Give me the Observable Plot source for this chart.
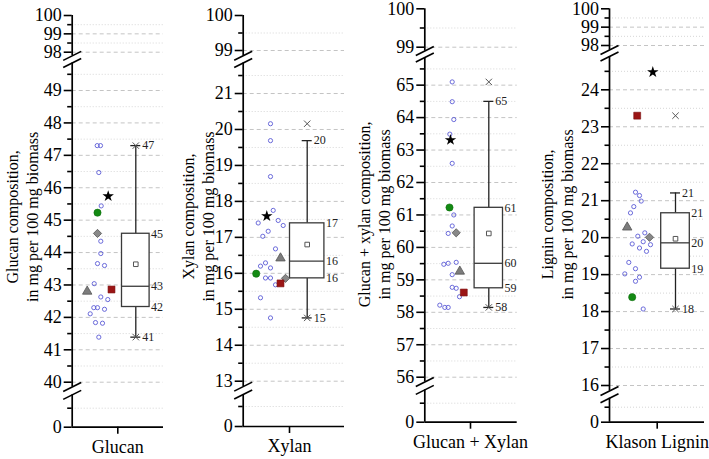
<!DOCTYPE html>
<html><head><meta charset="utf-8">
<script src="https://cdn.jsdelivr.net/npm/d3@7"></script>
<script src="https://cdn.jsdelivr.net/npm/@observablehq/plot@0.6"></script>
<style>
html,body{margin:0;padding:0;background:#fff;}
#chart{position:relative;width:709px;height:459px;overflow:hidden;}
#chart svg{position:absolute;left:0;top:0;}
#chart svg text{font-family:'Liberation Serif','Times New Roman',serif !important;}
</style></head><body><div id="chart"></div>
<script>
// ---------- data ----------
const categories = ["Glucan", "Xylan", "Glucan + Xylan", "Klason Lignin"];
const yTitles = [
  "Glucan composition,\nin mg per 100 mg biomass",
  "Xylan composition,\nin mg per 100 mg biomass",
  "Glucan + xylan composition,\nin mg per 100 mg biomass",
  "Lignin composition,\nin mg per 100 mg biomass"
];

// individual samples (open circles) and their horizontal jitter
const glucanSamples = [47.30, 47.30, 46.47, 45.44, 44.35, 43.97, 43.66, 43.60, 43.04, 42.63, 42.55, 42.30, 42.30, 42.25, 42.11, 41.84, 41.82, 41.39];
const glucanJitter  = [-20.6, -17.3, -19, -16.6, -17, -17, -20.3, -13.3, -23.6, -17, -10, -24, -20.3, -13.3, -27.6, -22.3, -15.3, -19];
const xylanSamples  = [20.16, 19.69, 18.69, 17.75, 17.40, 17.47, 17.33, 17.17, 17.03, 16.68, 16.29, 16.20, 16.15, 15.87, 15.87, 15.68, 15.32, 14.76];
const xylanJitter   = [-19, -19, -19, -16.3, -31.3, -11.3, -6.3, -21.3, -26.7, -14, -24, -29, -19, -24, -19, -14, -29, -19];
const gxSamples     = [65.10, 64.49, 63.94, 63.49, 62.59, 61.00, 60.66, 60.43, 59.48, 59.51, 59.54, 59.16, 58.77, 58.74, 58.48, 58.22, 58.15, 58.15];
const gxJitter      = [-18.3, -18.3, -16.7, -20.7, -18.3, -16.7, -18.3, -22.3, -26.7, -22.3, -14.3, -18.3, -18.3, -14.3, -11, -30.7, -25.7, -22.3];
const ligninSamples = [21.23, 21.14, 20.99, 20.84, 20.67, 20.13, 20.04, 19.89, 19.83, 19.81, 19.72, 19.63, 19.33, 19.02, 19.16, 18.93, 18.82, 18.07];
const ligninJitter  = [-21.7, -17.7, -16, -23.4, -26.7, -12.4, -19.4, -14, -25, -6.7, -17.7, -10.7, -28.4, -32.4, -21.7, -17.7, -21.7, -14];

// highlighted reference samples (one per panel)
const starValues     = [45.74, 17.59, 63.31, 24.48];
const starJitter     = [-9.6, -22.7, -20, -4.4];
const greenValues    = [45.23, 15.99, 61.23, 18.39];
const greenJitter    = [-20.3, -33.3, -21, -25];
const triangleValues = [42.80, 16.42, 59.26, 20.28];
const triangleJitter = [-30.6, -9, -10.7, -30];
const diamondValues  = [44.59, 15.86, 60.45, 20.01];
const diamondJitter  = [-20.3, -4, -14.3, -7.7];
const squareValues   = [42.86, 15.72, 58.61, 23.30];
const squareJitter   = [-6.3, -9, -6.7, -20];

// box statistics
const boxMin      = [41.39, 14.76, 58.15, 18.07];
const whiskerLow  = [41.39, 14.76, 58.15, 18.07];
const q1          = [42.32, 15.86, 58.74, 19.16];
const median      = [42.96, 16.34, 59.51, 19.86];
const mean        = [43.64, 16.80, 60.43, 19.97];
const q3          = [44.58, 17.39, 61.22, 20.66];
const whiskerHigh = [47.30, 19.69, 64.50, 21.21];
const boxMax      = [47.30, 20.16, 65.10, 23.30];

// tick labels
const glucanTicks = [0, 40, 41, 42, 43, 44, 45, 46, 47, 48, 49, 98, 99, 100];
const glucanMinor = [0.5, 40.5, 41.5, 42.5, 43.5, 44.5, 45.5, 46.5, 47.5, 48.5, 49.5, 98.5, 99.5];
const xylanTicks  = [0, 13, 14, 15, 16, 17, 18, 19, 20, 21, 99, 100];
const xylanMinor  = [0.5, 13.5, 14.5, 15.5, 16.5, 17.5, 18.5, 19.5, 20.5, 21.5, 99.5];
const gxTicks     = [0, 56, 57, 58, 59, 60, 61, 62, 63, 64, 65, 99, 100];
const gxMinor     = [0.5, 56.5, 57.5, 58.5, 59.5, 60.5, 61.5, 62.5, 63.5, 64.5, 65.5, 99.5];
const ligninTicks = [0, 16, 17, 18, 19, 20, 21, 22, 23, 24, 98, 99, 100];
const ligninMinor = [0.5, 16.5, 17.5, 18.5, 19.5, 20.5, 21.5, 22.5, 23.5, 24.5, 98.5, 99.5];

// ---------- layout (broken axes: bottom / middle / top segments) ----------
const panels = [
  {left: 71.7, right: 163, tick: 117.3, boxOffset: 18, boxHalf: 13.8, titleDx: -51,
   segs: [{lo: 0, hi: 0.85, ref: 0, px: 426.7, k: 38}, {lo: 39.85, hi: 49.85, ref: 40, px: 381.7, k: 32.41}, {lo: 97.8, hi: 100, ref: 100, px: 15, k: 18.35}],
   ticks: glucanTicks, minor: glucanMinor, samples: glucanSamples, jitter: glucanJitter},
  {left: 242.7, right: 344, tick: 289, boxOffset: 17.7, boxHalf: 17.2, titleDx: -46,
   segs: [{lo: 0, hi: 0.8, ref: 0, px: 426, k: 40}, {lo: 12.85, hi: 21.85, ref: 13, px: 380.7, k: 35.96}, {lo: 98.85, hi: 100, ref: 100, px: 15, k: 35}],
   ticks: xylanTicks, minor: xylanMinor, samples: xylanSamples, jitter: xylanJitter},
  {left: 424.3, right: 516.7, tick: 470, boxOffset: 18.3, boxHalf: 14.2, titleDx: -51,
   segs: [{lo: 0, hi: 0.85, ref: 0, px: 421.7, k: 38}, {lo: 55.85, hi: 65.85, ref: 56, px: 376.7, k: 32.45}, {lo: 98.9, hi: 100, ref: 100, px: 8.3, k: 38.4}],
   ticks: gxTicks, minor: gxMinor, samples: gxSamples, jitter: gxJitter},
  {left: 609, right: 704, tick: 656.7, boxOffset: 18.3, boxHalf: 14.3, titleDx: -53,
   segs: [{lo: 0, hi: 0.8, ref: 0, px: 421.7, k: 30}, {lo: 15.85, hi: 24.9, ref: 16, px: 385, k: 36.96}, {lo: 97.75, hi: 100, ref: 100, px: 8.3, k: 18.35}],
   ticks: ligninTicks, minor: ligninMinor, samples: ligninSamples, jitter: ligninJitter}
];

const FONT = "'Liberation Serif', 'Times New Roman', serif";
const slash = {draw(ctx) { ctx.moveTo(-9, 4.5); ctx.lineTo(9, -4.5); }};

const root = document.getElementById("chart");
panels.forEach((p, i) => {
  const dom = [], rng = [];
  p.segs.forEach(s => { for (const v of [s.lo, s.hi]) { dom.push(v); rng.push(s.px - (v - s.ref) * s.k); } });
  const zeroPx = rng[0];
  const xDom = [p.left - p.tick, p.right - p.tick];
  const c = p.boxOffset, hw = p.boxHalf;
  const st = {min: boxMin[i], wlo: whiskerLow[i], q1: q1[i], med: median[i], mean: mean[i], q3: q3[i], whi: whiskerHigh[i], max: boxMax[i]};
  const pts = p.samples.map((v, j) => ({v, x: p.jitter[j]}));
  const breakEnds = [p.segs[0].hi, p.segs[1].lo, p.segs[1].hi, p.segs[2].lo];
  const gridMajor = p.ticks.filter(t => t !== 0 && t !== 100);
  const labels = [
    {v: st.whi, x: c + 5}, {v: st.q3, x: c + hw}, {v: st.med, x: c + hw}, {v: st.q1, x: c + hw}, {v: st.wlo, x: c + 5}
  ];
  const one = (v, x) => [{v, x}];

  const chart = Plot.plot({
    width: 709, height: 459,
    marginLeft: p.left, marginRight: 709 - p.right, marginTop: 0, marginBottom: 459 - zeroPx,
    style: {background: "transparent", fontFamily: FONT, overflow: "visible", color: "black"},
    x: {type: "linear", domain: xDom, label: null},
    y: {type: "linear", domain: dom, range: rng, label: null},
    marks: [
      Plot.ruleY(gridMajor, {stroke: "#c4c4c4", strokeDasharray: "4,3"}),
      Plot.ruleY(p.minor, {stroke: "#d6d6d6", strokeDasharray: "1,2"}),
      Plot.ruleX(p.segs, {x: xDom[0], y1: "lo", y2: "hi", stroke: "black", strokeWidth: 1.7}),
      Plot.dot(breakEnds, {x: xDom[0], y: d => d, symbol: slash, fill: "none", stroke: "black", strokeWidth: 1.6}),
      Plot.axisY(p.ticks, {anchor: "left", label: null, tickSize: 8, tickPadding: 2.5, fontSize: 18, strokeWidth: 1.6, tickFormat: d => String(d)}),
      Plot.axisY(p.minor, {anchor: "left", label: null, tickSize: 4.5, strokeWidth: 1.6, tickFormat: () => ""}),
      Plot.ruleY([0], {stroke: "black", strokeWidth: 1.7}),
      Plot.axisX([0], {anchor: "bottom", label: null, tickSize: 7, tickPadding: 6, fontSize: 18, strokeWidth: 1.6, tickFormat: () => categories[i]}),
      Plot.text([yTitles[i]], {text: d => d, frameAnchor: "left", dx: p.titleDx, dy: 3, rotate: -90, fontSize: 16, lineHeight: 1.25, textAnchor: "middle", fill: "black"}),
      // box plot
      Plot.ruleX([st], {x: c, y1: "q3", y2: "whi", stroke: "#222", strokeWidth: 1.3}),
      Plot.ruleX([st], {x: c, y1: "q1", y2: "wlo", stroke: "#222", strokeWidth: 1.3}),
      Plot.ruleY([st.whi, st.wlo], {x1: c - 5, x2: c + 5, stroke: "#222", strokeWidth: 1.3}),
      Plot.rect([st], {x1: c - hw, x2: c + hw, y1: "q1", y2: "q3", fill: "white", stroke: "#3a3a3a", strokeWidth: 1.3}),
      Plot.ruleY([st], {y: "med", x1: c - hw, x2: c + hw, stroke: "#3a3a3a", strokeWidth: 1.3}),
      Plot.dot([st.mean], {x: c, y: d => d, symbol: "square", r: 2.6, fill: "white", stroke: "#555", strokeWidth: 1}),
      Plot.dot([st.min, st.max], {x: c, y: d => d, symbol: "times", r: 3, stroke: "#555", strokeWidth: 1}),
      Plot.text(labels, {x: "x", y: "v", text: d => String(Math.round(d.v)), textAnchor: "start", dx: 1.5, fontSize: 12, fill: "#222"}),
      // samples
      Plot.dot(pts, {x: "x", y: "v", r: 2.1, fill: "none", stroke: "#5b5bd6", strokeWidth: 0.9}),
      Plot.dot(one(greenValues[i], greenJitter[i]), {x: "x", y: "v", r: 3.6, fill: "#138a13", stroke: "#0d6e0d", strokeWidth: 0.6}),
      Plot.dot(one(triangleValues[i], triangleJitter[i]), {x: "x", y: "v", symbol: "triangle", r: 3.5, fill: "#7d7d7d", stroke: "#555", strokeWidth: 0.8}),
      Plot.dot(one(diamondValues[i], diamondJitter[i]), {x: "x", y: "v", symbol: "diamond2", r: 3.7, fill: "#888", stroke: "#555", strokeWidth: 0.8}),
      Plot.dot(one(squareValues[i], squareJitter[i]), {x: "x", y: "v", symbol: "square", r: 3.9, fill: "#9b1515", stroke: "#7a0e0e", strokeWidth: 0.6}),
      Plot.dot(one(starValues[i], starJitter[i]), {x: "x", y: "v", symbol: "star", r: 3.6, fill: "black", stroke: "none"})
    ]
  });
  root.appendChild(chart);
});
</script></body></html>
